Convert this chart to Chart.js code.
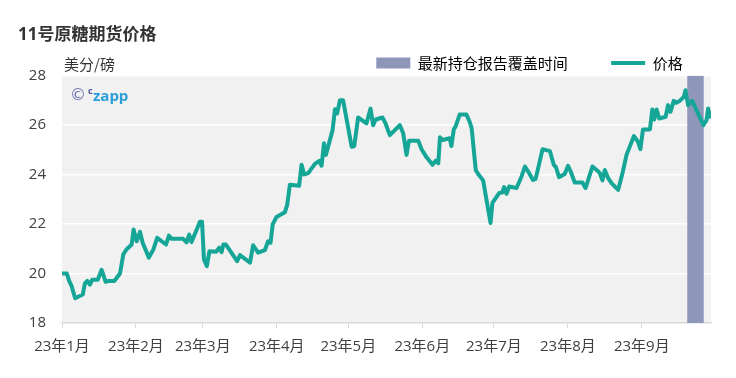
<!DOCTYPE html>
<html>
<head>
  <meta charset="utf-8">
  <title>11号原糖期货价格</title>
  <script src="https://cdn.jsdelivr.net/npm/chart.js"></script>
  <style>
    body { margin: 0; background: #fff; }
    #wrap { width: 736px; height: 378px; }
  </style>
</head>
<body>
  <div id="wrap"><canvas id="sugarChart"></canvas></div>

  <script>
    // x = days since 2023-01-01, y = US cents per pound
    const tradeDays = [
      0, 2, 3, 4, 5.5, 8.7, 9.6, 10.6, 11.7, 12.7, 15, 16.6, 18.3, 19.5, 22, 24.3, 25.7, 27, 29.2, 30,
      31.3, 32.7, 33.8, 36.4, 38.3, 39.9, 43.6, 44.8, 46, 50.8, 52.2, 53.3, 54.3, 57.8, 58.7, 59.5, 60.7, 61.8, 64.6, 65.9,
      66.9, 67.6, 68.7, 73.4, 74.6, 78.8, 80.1, 82.2, 85, 86.4, 87.4, 88.3, 89.9, 93.4, 94.4, 95.5, 99.4, 100.4, 101.5, 103.2,
      106, 107.8, 108.8, 109.8, 110.6, 113.4, 114.4, 115.3, 116.5, 117.8, 121.4, 122.5, 124.1, 127.6, 129.3, 130.4, 131.5, 134.3, 135.6, 137.4,
      141.6, 143, 144.4, 145.4, 149.3, 150.7, 152.8, 155.3, 156.7, 157.7, 158.4, 159.5, 162.5, 163.2, 164.2, 165, 166.7, 169.5, 170.9, 171.7,
      173.4, 174.4, 176.5, 179.6, 180.4, 183.2, 184.5, 185.3, 186.3, 187.4, 190.5, 192.6, 194, 195.8, 197.4, 198.5, 201.4, 204.5, 206.1, 207,
      208.3, 210.7, 212.1, 213.2, 214.9, 218.1, 219.4, 220.9, 222.3, 224.3, 225.4, 226.5, 227.5, 228.9, 230.3, 233.1, 234.9, 236.6, 239.7, 241.4,
      242.4, 243.5, 246.4, 247.4, 248.2, 249.2, 250.3, 253, 254, 255, 256.4, 257.5, 258.9, 260.6, 261.3, 262.4, 264.1, 266.6, 268.8, 270.1,
      270.8, 271.8
    ];
    const prices = [
      20.0, 20.0, 19.7, 19.5, 19.0, 19.15, 19.6, 19.7, 19.55, 19.75, 19.75, 20.15, 19.66, 19.7, 19.7, 20.0, 20.77, 20.97, 21.17, 21.78,
      21.3, 21.68, 21.24, 20.64, 20.97, 21.44, 21.17, 21.53, 21.4, 21.4, 21.26, 21.57, 21.27, 22.09, 22.09, 20.57, 20.3, 20.9, 20.88, 21.04,
      20.86, 21.17, 21.17, 20.5, 20.74, 20.44, 21.14, 20.84, 20.94, 21.3, 21.24, 21.98, 22.28, 22.47, 22.78, 23.58, 23.54, 24.39, 24.0, 24.05,
      24.43, 24.55, 24.35, 25.26, 24.79, 25.79, 26.63, 26.46, 27.0, 27.0, 25.12, 25.15, 26.3, 26.06, 26.66, 25.99, 26.22, 26.3, 26.06, 25.59,
      25.99, 25.66, 24.79, 25.36, 25.36, 25.02, 24.69, 24.39, 24.56, 24.45, 25.5, 25.39, 25.46, 25.15, 25.82, 25.95, 26.42, 26.42, 26.12, 25.86,
      24.18, 24.02, 23.76, 22.04, 22.85, 23.25, 23.27, 23.49, 23.22, 23.51, 23.45, 23.92, 24.32, 24.05, 23.78, 23.82, 25.02, 24.94, 24.39, 24.3,
      23.89, 24.02, 24.35, 24.12, 23.67, 23.67, 23.45, 23.89, 24.32, 24.16, 24.05, 23.76, 24.18, 23.85, 23.65, 23.38, 24.05, 24.79, 25.55, 25.32,
      25.02, 25.82, 25.82, 26.62, 26.22, 26.62, 26.26, 26.33, 26.8, 26.53, 26.97, 26.89, 26.97, 27.13, 27.4, 26.8, 26.97, 26.46, 25.99, 26.19,
      26.66, 26.26
    ];
    const reportWindow = [262, 269];
    const monthStarts = [0, 31, 59, 90, 120, 151, 181, 212, 243];
    const monthLabels = ['23年1月', '23年2月', '23年3月', '23年4月', '23年5月', '23年6月', '23年7月', '23年8月', '23年9月'];

    const teal = '#15a697';
    const slate = '#8e96ba';

    Chart.defaults.font.family = '"Open Sans", "Noto Sans CJK SC", sans-serif';
    Chart.defaults.color = '#404040';

    const extras = {
      id: 'extras',
      beforeDraw(chart) {
        const { ctx, chartArea: a } = chart;
        ctx.save();
        ctx.fillStyle = '#f1f1f1';
        ctx.fillRect(a.left, a.top, a.right - a.left, a.bottom - a.top);
        ctx.restore();
      },
      afterDraw(chart) {
        const { ctx, chartArea: a } = chart;
        ctx.save();
        ctx.textBaseline = 'middle';
        ctx.fillStyle = '#333';
        ctx.font = '15px "Noto Sans CJK SC", sans-serif';
        ctx.fillText('美分/磅', a.left + 2, a.top - 11);
        // watermark
        ctx.fillStyle = '#6d72b5';
        ctx.font = '16px "DejaVu Sans", sans-serif';
        ctx.fillText('©', a.left + 8, a.top + 20);
        ctx.fillStyle = '#4b4f98';
        ctx.font = 'bold 9px "Open Sans", sans-serif';
        ctx.fillText('c', a.left + 26, a.top + 16);
        ctx.fillStyle = '#2a9fdc';
        ctx.font = 'bold 15px "Open Sans", sans-serif';
        ctx.fillText('zapp', a.left + 31, a.top + 21);
        ctx.restore();
      }
    };

    new Chart(document.getElementById('sugarChart'), {
      type: 'line',
      data: {
        datasets: [
          {
            label: '价格',
            data: tradeDays.map((d, i) => ({ x: d, y: prices[i] })),
            borderColor: teal,
            borderWidth: 4,
            borderJoinStyle: 'round',
            pointRadius: 0,
            tension: 0,
            fill: false
          },
          {
            label: '最新持仓报告覆盖时间',
            data: reportWindow.map(d => ({ x: d, y: 28 })),
            backgroundColor: slate,
            borderWidth: 0,
            pointRadius: 0,
            fill: 'start'
          }
        ]
      },
      options: {
        responsive: true,
        maintainAspectRatio: false,
        animation: false,
        layout: { padding: { left: 18, right: 25, top: 0, bottom: 12 } },
        scales: {
          x: {
            type: 'linear',
            min: 0,
            max: 272,
            afterBuildTicks: scale => { scale.ticks = monthStarts.map(v => ({ value: v })); },
            ticks: {
              autoSkip: false,
              maxRotation: 0,
              padding: 10,
              font: { size: 15 },
              callback: (v, i) => monthLabels[i]
            },
            grid: { drawOnChartArea: false, color: '#d9d9d9', tickLength: 5 },
            border: { color: '#d9d9d9', width: 1.5 }
          },
          y: {
            min: 18,
            max: 28,
            afterFit: scale => { scale.width = 44; },
            ticks: { stepSize: 2, padding: 16, font: { size: 15 } },
            grid: {
              drawTicks: false,
              lineWidth: 1.5,
              color: c => (c.tick && c.tick.value === 18) ? 'rgba(0,0,0,0)' : '#ffffff'
            },
            border: { display: false }
          }
        },
        plugins: {
          title: {
            display: true,
            text: '11号原糖期货价格',
            align: 'start',
            color: '#333',
            font: { size: 17, weight: 'bold' },
            padding: { top: 25, bottom: 0 }
          },
          legend: {
            align: 'end',
            maxHeight: 30,
            labels: {
              usePointStyle: true,
              pointStyleWidth: 34,
              boxHeight: 11,
              padding: 10,
              color: '#333',
              font: { size: 15, family: '"Noto Sans CJK SC", sans-serif' },
              generateLabels: () => [
                { text: '最新持仓报告覆盖时间\u3000\u3000 ', fillStyle: slate, strokeStyle: slate, lineWidth: 0, pointStyle: 'rect', datasetIndex: 1, hidden: false },
                { text: '价格\u3000 ', fillStyle: teal, strokeStyle: teal, lineWidth: 4, pointStyle: 'line', datasetIndex: 0, hidden: false }
              ]
            }
          },
          tooltip: { enabled: false }
        }
      },
      plugins: [extras]
    });
  </script>
</body>
</html>
